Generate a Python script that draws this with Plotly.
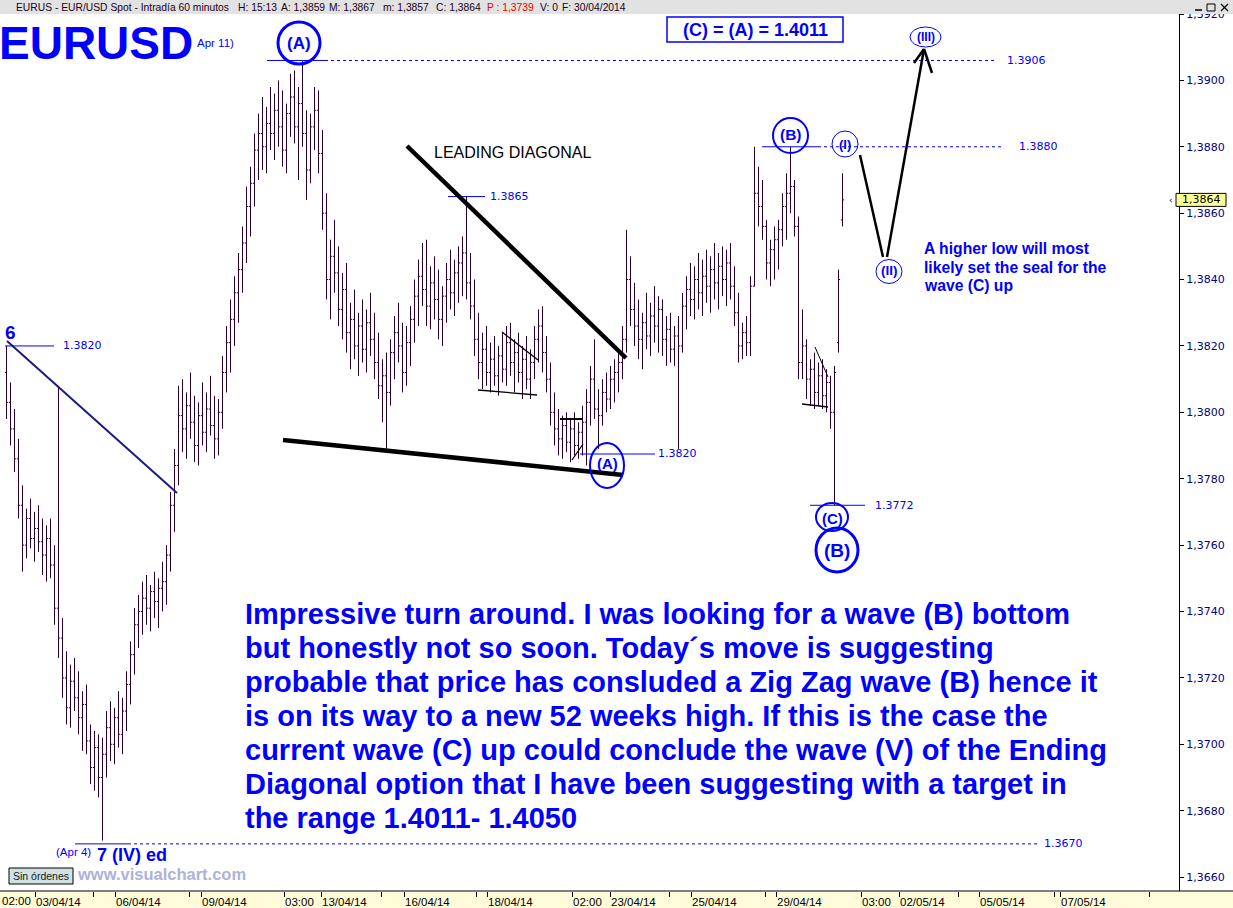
import plotly.graph_objects as go

# ---------------- EUR/USD hourly bars, oldest first ----------------
bar_open = [
    1.3812, 1.3803, 1.3795, 1.3786, 1.3772, 1.3760, 1.3768, 1.3762, 1.3765, 1.3761,
    1.3757, 1.3762, 1.3754, 1.3741, 1.3732, 1.3720, 1.3711, 1.3719, 1.3714, 1.3708,
    1.3712, 1.3701, 1.3693, 1.3699, 1.3690, 1.3697, 1.3705, 1.3700, 1.3708, 1.3703,
    1.3710, 1.3718, 1.3727, 1.3736, 1.3740, 1.3744, 1.3741, 1.3746, 1.3743, 1.3747,
    1.3749, 1.3757, 1.3772, 1.3784, 1.3799, 1.3795, 1.3802, 1.3797, 1.3790, 1.3799,
    1.3794, 1.3801, 1.3796, 1.3792, 1.3800, 1.3812, 1.3821, 1.3828, 1.3836, 1.3843,
    1.3851, 1.3862, 1.3869, 1.3879, 1.3884, 1.3880, 1.3887, 1.3884, 1.3891, 1.3886,
    1.3879, 1.3890, 1.3895, 1.3886, 1.3893, 1.3884, 1.3873, 1.3886, 1.3891, 1.3878,
    1.3860, 1.3840, 1.3847, 1.3842, 1.3831, 1.3837, 1.3824, 1.3828, 1.3820, 1.3826,
    1.3819, 1.3827, 1.3822, 1.3815, 1.3808, 1.3811, 1.3806, 1.3818, 1.3824, 1.3820,
    1.3812, 1.3821, 1.3828, 1.3835, 1.3841, 1.3837, 1.3832, 1.3839, 1.3834, 1.3828,
    1.3835, 1.3840, 1.3836, 1.3842, 1.3845, 1.3848, 1.3839, 1.3832, 1.3822, 1.3815,
    1.3819, 1.3812, 1.3816, 1.3811, 1.3817, 1.3813, 1.3821, 1.3815, 1.3818, 1.3812,
    1.3816, 1.3810, 1.3815, 1.3822, 1.3826, 1.3818, 1.3810, 1.3800, 1.3795, 1.3792,
    1.3796, 1.3791, 1.3795, 1.3790, 1.3794, 1.3797, 1.3803, 1.3810, 1.3801, 1.3799,
    1.3806, 1.3804, 1.3810, 1.3812, 1.3815, 1.3822, 1.3840, 1.3831, 1.3826, 1.3822,
    1.3827, 1.3823, 1.3829, 1.3826, 1.3831, 1.3822, 1.3825, 1.3819, 1.3823, 1.3820,
    1.3832, 1.3837, 1.3834, 1.3840, 1.3836, 1.3841, 1.3838, 1.3843, 1.3839, 1.3844,
    1.3840, 1.3845, 1.3838, 1.3830, 1.3820, 1.3824, 1.3821, 1.3838, 1.3866, 1.3862,
    1.3856, 1.3845, 1.3849, 1.3852, 1.3855, 1.3862, 1.3866, 1.3868, 1.3856, 1.3815,
    1.3820, 1.3810, 1.3813, 1.3806, 1.3811, 1.3805, 1.3809, 1.3800, 1.3821, 1.3858,
]
bar_high = [
    1.3820, 1.3809, 1.3801, 1.3792, 1.3778, 1.3771, 1.3774, 1.3770, 1.3772, 1.3768,
    1.3766, 1.3768, 1.3760, 1.3808, 1.3738, 1.3728, 1.3724, 1.3726, 1.3722, 1.3716,
    1.3718, 1.3706, 1.3704, 1.3703, 1.3702, 1.3710, 1.3713, 1.3711, 1.3716, 1.3714,
    1.3722, 1.3731, 1.3741, 1.3745, 1.3749, 1.3751, 1.3748, 1.3752, 1.3750, 1.3755,
    1.3760, 1.3776, 1.3789, 1.3808, 1.3810, 1.3806, 1.3812, 1.3805, 1.3803, 1.3809,
    1.3806, 1.3811, 1.3805, 1.3804, 1.3817, 1.3826, 1.3834, 1.3841, 1.3848, 1.3856,
    1.3868, 1.3874, 1.3884, 1.3890, 1.3895, 1.3892, 1.3898, 1.3896, 1.3900, 1.3897,
    1.3893, 1.3902, 1.3903, 1.3898, 1.3906, 1.3891, 1.3890, 1.3898, 1.3897, 1.3885,
    1.3866, 1.3852, 1.3858, 1.3850, 1.3842, 1.3845, 1.3833, 1.3837, 1.3830, 1.3834,
    1.3831, 1.3836, 1.3830, 1.3824, 1.3816, 1.3818, 1.3822, 1.3829, 1.3833, 1.3827,
    1.3826, 1.3832, 1.3840, 1.3846, 1.3851, 1.3852, 1.3844, 1.3847, 1.3843, 1.3838,
    1.3845, 1.3849, 1.3846, 1.3850, 1.3853, 1.3865, 1.3848, 1.3840, 1.3830, 1.3824,
    1.3826, 1.3821, 1.3823, 1.3820, 1.3824, 1.3826, 1.3827, 1.3822, 1.3824, 1.3820,
    1.3823, 1.3819, 1.3826, 1.3831, 1.3832, 1.3823, 1.3815, 1.3806, 1.3801, 1.3799,
    1.3800, 1.3798, 1.3800, 1.3797, 1.3802, 1.3807, 1.3814, 1.3822, 1.3807, 1.3810,
    1.3812, 1.3814, 1.3816, 1.3819, 1.3826, 1.3855, 1.3847, 1.3839, 1.3834, 1.3830,
    1.3836, 1.3833, 1.3838, 1.3835, 1.3834, 1.3829, 1.3830, 1.3826, 1.3829, 1.3836,
    1.3841, 1.3845, 1.3844, 1.3848, 1.3846, 1.3849, 1.3847, 1.3851, 1.3848, 1.3850,
    1.3849, 1.3851, 1.3844, 1.3836, 1.3827, 1.3829, 1.3841, 1.3880, 1.3874, 1.3870,
    1.3858, 1.3852, 1.3856, 1.3858, 1.3866, 1.3872, 1.3880, 1.3870, 1.3859, 1.3831,
    1.3822, 1.3816, 1.3818, 1.3815, 1.3816, 1.3813, 1.3811, 1.3814, 1.3843, 1.3872,
]
bar_low = [
    1.3798, 1.3790, 1.3782, 1.3768, 1.3752, 1.3756, 1.3759, 1.3755, 1.3758, 1.3751,
    1.3749, 1.3750, 1.3736, 1.3726, 1.3714, 1.3706, 1.3705, 1.3710, 1.3703, 1.3698,
    1.3697, 1.3688, 1.3686, 1.3684, 1.3671, 1.3690, 1.3695, 1.3694, 1.3699, 1.3697,
    1.3704, 1.3712, 1.3721, 1.3729, 1.3733, 1.3736, 1.3734, 1.3738, 1.3735, 1.3740,
    1.3742, 1.3752, 1.3764, 1.3778, 1.3788, 1.3786, 1.3792, 1.3785, 1.3784, 1.3790,
    1.3788, 1.3793, 1.3786, 1.3787, 1.3795, 1.3806, 1.3812, 1.3820, 1.3827, 1.3836,
    1.3845, 1.3853, 1.3862, 1.3870, 1.3873, 1.3872, 1.3879, 1.3876, 1.3880, 1.3874,
    1.3872, 1.3883, 1.3881, 1.3870, 1.3880, 1.3864, 1.3869, 1.3879, 1.3872, 1.3855,
    1.3834, 1.3828, 1.3836, 1.3826, 1.3822, 1.3818, 1.3813, 1.3816, 1.3811, 1.3815,
    1.3812, 1.3817, 1.3810, 1.3804, 1.3797, 1.3789, 1.3802, 1.3810, 1.3815, 1.3806,
    1.3808, 1.3814, 1.3821, 1.3826, 1.3832, 1.3826, 1.3825, 1.3828, 1.3822, 1.3820,
    1.3827, 1.3831, 1.3829, 1.3833, 1.3835, 1.3834, 1.3828, 1.3817, 1.3810, 1.3807,
    1.3808, 1.3806, 1.3808, 1.3805, 1.3809, 1.3808, 1.3811, 1.3806, 1.3809, 1.3804,
    1.3807, 1.3804, 1.3810, 1.3815, 1.3812, 1.3806, 1.3796, 1.3790, 1.3787, 1.3786,
    1.3788, 1.3785, 1.3787, 1.3786, 1.3787, 1.3784, 1.3796, 1.3798, 1.3789, 1.3796,
    1.3800, 1.3801, 1.3803, 1.3806, 1.3810, 1.3818, 1.3826, 1.3820, 1.3816, 1.3813,
    1.3819, 1.3817, 1.3821, 1.3818, 1.3817, 1.3814, 1.3815, 1.3814, 1.3789, 1.3818,
    1.3825, 1.3829, 1.3828, 1.3831, 1.3829, 1.3833, 1.3830, 1.3834, 1.3831, 1.3835,
    1.3832, 1.3834, 1.3826, 1.3815, 1.3816, 1.3817, 1.3817, 1.3838, 1.3856, 1.3852,
    1.3840, 1.3838, 1.3840, 1.3843, 1.3850, 1.3852, 1.3860, 1.3853, 1.3810, 1.3810,
    1.3804, 1.3802, 1.3801, 1.3802, 1.3801, 1.3800, 1.3795, 1.3772, 1.3818, 1.3856,
]
bar_close = [
    1.3803, 1.3795, 1.3786, 1.3772, 1.3760, 1.3768, 1.3762, 1.3765, 1.3761, 1.3757,
    1.3762, 1.3754, 1.3741, 1.3732, 1.3720, 1.3711, 1.3719, 1.3714, 1.3708, 1.3712,
    1.3701, 1.3693, 1.3699, 1.3690, 1.3697, 1.3705, 1.3700, 1.3708, 1.3703, 1.3710,
    1.3718, 1.3727, 1.3736, 1.3740, 1.3744, 1.3741, 1.3746, 1.3743, 1.3747, 1.3749,
    1.3757, 1.3772, 1.3784, 1.3799, 1.3795, 1.3802, 1.3797, 1.3790, 1.3799, 1.3794,
    1.3801, 1.3796, 1.3792, 1.3800, 1.3812, 1.3821, 1.3828, 1.3836, 1.3843, 1.3851,
    1.3862, 1.3869, 1.3879, 1.3884, 1.3880, 1.3887, 1.3884, 1.3891, 1.3886, 1.3879,
    1.3890, 1.3895, 1.3886, 1.3893, 1.3884, 1.3873, 1.3886, 1.3891, 1.3878, 1.3860,
    1.3840, 1.3847, 1.3842, 1.3831, 1.3837, 1.3824, 1.3828, 1.3820, 1.3826, 1.3819,
    1.3827, 1.3822, 1.3815, 1.3808, 1.3811, 1.3806, 1.3818, 1.3824, 1.3820, 1.3812,
    1.3821, 1.3828, 1.3835, 1.3841, 1.3837, 1.3832, 1.3839, 1.3834, 1.3828, 1.3835,
    1.3840, 1.3836, 1.3842, 1.3845, 1.3848, 1.3839, 1.3832, 1.3822, 1.3815, 1.3819,
    1.3812, 1.3816, 1.3811, 1.3817, 1.3813, 1.3821, 1.3815, 1.3818, 1.3812, 1.3816,
    1.3810, 1.3815, 1.3822, 1.3826, 1.3818, 1.3810, 1.3800, 1.3795, 1.3792, 1.3796,
    1.3791, 1.3795, 1.3790, 1.3794, 1.3797, 1.3803, 1.3810, 1.3801, 1.3799, 1.3806,
    1.3804, 1.3810, 1.3812, 1.3815, 1.3822, 1.3840, 1.3831, 1.3826, 1.3822, 1.3827,
    1.3823, 1.3829, 1.3826, 1.3831, 1.3822, 1.3825, 1.3819, 1.3823, 1.3820, 1.3832,
    1.3837, 1.3834, 1.3840, 1.3836, 1.3841, 1.3838, 1.3843, 1.3839, 1.3844, 1.3840,
    1.3845, 1.3838, 1.3830, 1.3820, 1.3824, 1.3821, 1.3838, 1.3866, 1.3862, 1.3856,
    1.3845, 1.3849, 1.3852, 1.3855, 1.3862, 1.3866, 1.3868, 1.3856, 1.3815, 1.3820,
    1.3810, 1.3813, 1.3806, 1.3811, 1.3805, 1.3809, 1.3800, 1.3812, 1.3840, 1.3864,
]
bar_index = list(range(len(bar_close)))

# time axis (bar-number positions of the session marks)
x_tick_pos = [7.25, 21.75, 27.25, 45.75, 48.75, 69.5, 78.75, 93.75, 99.5, 117.5,
              120.25, 141.5, 151, 165.75, 171.25, 189.75, 192.5, 213.75, 223.25,
              238, 243.25, 262, 263.5, 285.75]
x_tick_text = ["03/04/14", "", "06/04/14", "", "09/04/14", "03:00", "13/04/14", "",
               "16/04/14", "", "18/04/14", "02:00", "23/04/14", "", "25/04/14", "",
               "29/04/14", "03:00", "02/05/14", "", "05/05/14", "", "07/05/14", ""]

# price axis
price_ticks = [1.3660, 1.3680, 1.3700, 1.3720, 1.3740, 1.3760, 1.3780,
               1.3800, 1.3820, 1.3840, 1.3860, 1.3880, 1.3900, 1.3920]
price_tick_text = [f"{v:.4f}".replace(".", ",") for v in price_ticks]

# marked price levels
level_swing_high = 1.3906
level_wave_b = 1.3880
level_spike = 1.3865
level_start = 1.3820
level_wave_c = 1.3772
level_wave_iv = 1.3670
last_price = 1.3864

header_items = [
    ("EURUS - EUR/USD Spot - Intradía 60 minutos", 14, "#1a001a"),
    ("H: 15:13", 236, "#1a001a"),
    ("A: 1,3859", 279, "#1a001a"),
    ("M: 1,3867", 327, "#1a001a"),
    ("m: 1,3857", 381, "#1a001a"),
    ("C: 1,3864", 434, "#1a001a"),
    ("P : 1,3739", 485, "#ee0000"),
    ("V: 0", 538, "#1a001a"),
    ("F: 30/04/2014", 560, "#1a001a"),
]

note_lines = [
    "Impressive turn around. I was looking for a wave (B) bottom",
    "but honestly not so soon. Today´s move is suggesting",
    "probable that price has consluded a Zig Zag wave (B) hence it",
    "is on its way to a new 52 weeks high. If this is the case the",
    "current wave (C) up could conclude the wave (V) of the Ending",
    "Diagonal option that I have been suggesting with a target in",
    "the range 1.4011- 1.4050",
]
side_note_lines = [
    "A higher low will most",
    "likely set the seal for the",
    "wave (C) up",
]

# ---------------- styling ----------------
W, H = 1233, 908
PLOT_W, PLOT_H, TOP = 1179, 877, 14
BLUE = "#0000ff"
NAVY = "#1c1c80"
BAR = "#2c002c"
SANS = "Liberation Sans, Arial, sans-serif"
DJ = "DejaVu Sans, sans-serif"


def fx(px):
    return px / PLOT_W


def fy(py):
    return (TOP + PLOT_H - py) / PLOT_H


shapes = []
annotations = []


def seg(x0, y0, x1, y1, color="black", width=1.0, dash=None):
    shapes.append(dict(type="line", xref="paper", yref="paper",
                       x0=fx(x0), y0=fy(y0), x1=fx(x1), y1=fy(y1),
                       line=dict(color=color, width=width, dash=dash)))


def level(price, x0, x1, dash=None, color=BLUE):
    shapes.append(dict(type="line", xref="paper", yref="y",
                       x0=fx(x0), x1=fx(x1), y0=price, y1=price,
                       line=dict(color=color, width=1, dash=dash)))


def ring(cx, cy, rx, ry, width, color=BLUE):
    shapes.append(dict(type="circle", xref="paper", yref="paper",
                       x0=fx(cx - rx), x1=fx(cx + rx), y0=fy(cy + ry), y1=fy(cy - ry),
                       line=dict(color=color, width=width)))


def text(t, x, y, size, color=BLUE, bold=False, xanchor="left", family=SANS):
    annotations.append(dict(text=f"<b>{t}</b>" if bold else t,
                            xref="paper", yref="paper", x=fx(x), y=fy(y),
                            xanchor=xanchor, yanchor="middle", showarrow=False,
                            font=dict(family=family, size=size, color=color)))


def price_label(value, x):
    annotations.append(dict(text=f"{value:.4f}", xref="paper", yref="y",
                            x=fx(x), y=value, xanchor="left", yanchor="middle",
                            showarrow=False, font=dict(family=DJ, size=11, color=BLUE)))


# window frame: header strip (drawn over the top of the price scale) and time-axis strip
shapes.append(dict(type="rect", xref="paper", yref="paper", layer="above",
                   x0=0, x1=W / PLOT_W, y0=1, y1=fy(0), fillcolor="#e2e2e2", line=dict(width=0)))
shapes.append(dict(type="rect", xref="paper", yref="paper", layer="below",
                   x0=0, x1=W / PLOT_W, y0=fy(H), y1=0, fillcolor="#fffcd9", line=dict(width=0)))
seg(0, TOP + PLOT_H, W, TOP + PLOT_H, "black", 1)

for label, x, color in header_items:
    text(label, x, 7, 10.3, color=color)
# window buttons
seg(1195, 10, 1202, 10, "black", 1.5)
shapes.append(dict(type="rect", xref="paper", yref="paper", x0=fx(1207), x1=fx(1215),
                   y0=fy(11), y1=fy(4), line=dict(color="black", width=1)))
seg(1221, 4, 1228, 11, "black", 1.3)
seg(1221, 11, 1228, 4, "black", 1.3)

# title
text("EURUSD", -3, 42.5, 46, bold=True)
text("Apr 11)", 195, 43, 11.5)

# price levels with their labels
level(level_start, 5, 54)
price_label(level_start, 61)
level(level_swing_high, 267, 325)
level(level_swing_high, 325, 995, dash="3px,3px")
price_label(level_swing_high, 1005)
level(level_spike, 448, 485)
price_label(level_spike, 488)
level(level_wave_b, 762, 818)
level(level_wave_b, 818, 1002, dash="3px,3px")
price_label(level_wave_b, 1017)
level(level_wave_c, 810, 865)
price_label(level_wave_c, 873)
level(level_wave_iv, 75, 128)
level(level_wave_iv, 128, 1040, dash="3px,3px")
price_label(level_wave_iv, 1042)
seg(580, 454, 655, 454, BLUE, 1)
text("1.3820", 656, 454, 11, family=DJ)

# trend lines and patterns
seg(7, 341, 177, 493, NAVY, 2)
seg(407, 146, 626, 358, "black", 4.5)
seg(283, 440, 623, 475, "black", 4.5)
seg(502, 332, 538, 360, "black", 1.3)
seg(478, 390, 537, 395, "black", 1.3)
seg(560, 419, 583, 419, "black", 2)
seg(572, 460, 583, 444, "black", 1.3)
seg(815, 347, 828, 377, "black", 1)
seg(802, 404, 828, 407, "black", 1.3)

# projected path (I)-(II)-(III)
seg(860, 155, 883, 257, "black", 2.5)
seg(887, 257, 924, 49, "black", 2.5)
seg(924, 49, 914, 63, "black", 2.5)
seg(924, 49, 932, 73, "black", 2.5)

# wave labels
text("6", 3, 333, 19, bold=True)
ring(299, 43, 21, 21, 3)
text("(A)", 299, 43, 17, bold=True, xanchor="center")
ring(607, 465.5, 17, 22.5, 2)
text("(A)", 607, 463, 15, bold=True, xanchor="center")
ring(790.5, 135.5, 17.5, 17.5, 2)
text("(B)", 790.5, 134, 15.5, bold=True, xanchor="center")
ring(845, 144, 13, 13, 1)
text("(I)", 845, 144, 13, bold=True, xanchor="center")
ring(889, 271.5, 13, 12, 1)
text("(II)", 889, 271, 13.5, bold=True, xanchor="center")
ring(925.5, 37, 15.5, 10, 1)
text("(III)", 925.5, 37, 12, bold=True, xanchor="center")
ring(832, 517, 16, 14, 2)
text("(C)", 832, 518, 15, bold=True, xanchor="center")
ring(837, 550, 21, 22, 3)
text("(B)", 837, 550, 19, bold=True, xanchor="center")
text("(Apr 4)", 54, 852, 11.5)
text("7 (IV) ed", 95, 855, 18, bold=True)

text("LEADING DIAGONAL", 432, 153, 16, color="black")

# target box
shapes.append(dict(type="rect", xref="paper", yref="paper", x0=fx(667), x1=fx(843),
                   y0=fy(42), y1=fy(17), fillcolor="white", line=dict(color=BLUE, width=1.5)))
text("(C) = (A) = 1.4011", 755, 30, 18, bold=True, xanchor="center")

# commentary
for k, line in enumerate(note_lines):
    text(line, 243, 614 + 34 * k, 29, bold=True)
for k, line in enumerate(side_note_lines):
    text(line, 922, 248 + 19 * k, 15.7, bold=True)

# footer
shapes.append(dict(type="rect", xref="paper", yref="paper", x0=fx(9), x1=fx(73),
                   y0=fy(884), y1=fy(868), fillcolor="#d2e2e2", line=dict(color="black", width=1)))
text("Sin órdenes", 41, 876, 10.5, color="#102020", xanchor="center")
text("www.visualchart.com", 75, 874, 16.5, color="#aeb2d8", bold=True)
text("02:00", 0, 901, 11.5, color="black")

# last-price flag on the price scale
shapes.append(dict(type="rect", xref="paper", yref="y", x0=fx(1176), x1=fx(1226),
                   y0=last_price - 0.000196, y1=last_price + 0.000196,
                   fillcolor="#ffff99", line=dict(color="black", width=1)))
annotations.append(dict(text=f"{last_price:.4f}".replace(".", ","), xref="paper", yref="y",
                        x=fx(1201), y=last_price, xanchor="center", yanchor="middle",
                        showarrow=False, font=dict(family=DJ, size=11, color="black")))
annotations.append(dict(text="‹", xref="paper", yref="y", x=fx(1175), y=last_price,
                        xanchor="right", yanchor="middle", showarrow=False,
                        font=dict(family=DJ, size=9, color="black")))

fig = go.Figure(go.Ohlc(
    x=bar_index, open=bar_open, high=bar_high, low=bar_low, close=bar_close,
    increasing=dict(line=dict(color=BAR, width=1)),
    decreasing=dict(line=dict(color=BAR, width=1)),
    tickwidth=0.4, hoverinfo="skip", showlegend=False,
))

fig.update_layout(
    width=W, height=H,
    margin=dict(l=0, r=W - PLOT_W, t=TOP, b=H - TOP - PLOT_H, pad=0, autoexpand=False),
    paper_bgcolor="white", plot_bgcolor="white",
    font=dict(family=SANS),
    showlegend=False,
    shapes=shapes,
    annotations=annotations,
    xaxis=dict(range=[-1.625, 293.125], tickmode="array", tickvals=x_tick_pos,
               ticktext=x_tick_text, ticks="outside", ticklen=5, tickcolor="black",
               tickwidth=1, ticklabelposition="outside right", tickangle=0,
               automargin=False,
               tickfont=dict(family=SANS, size=11.5, color="black"),
               showgrid=False, zeroline=False, showline=False,
               rangeslider=dict(visible=False), fixedrange=True),
    yaxis=dict(side="right", range=[1.36558, 1.39200], tickmode="array",
               tickvals=price_ticks, ticktext=price_tick_text, ticks="outside",
               ticklen=4, tickcolor="black", showline=True, linecolor="black",
               linewidth=1, automargin=False,
               tickfont=dict(family=DJ, size=11, color="#000080"),
               showgrid=False, zeroline=False, fixedrange=True),
)

fig.write_html("out.html", config={"displayModeBar": False})
